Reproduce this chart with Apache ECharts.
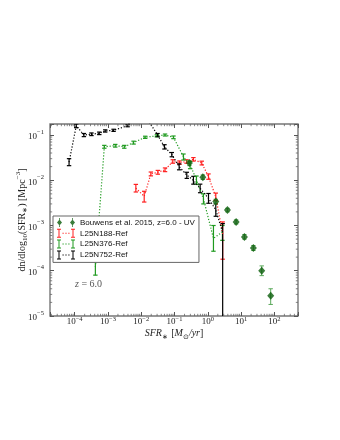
<!DOCTYPE html>
<html>
<head>
<meta charset="utf-8">
<style>
  html, body { margin: 0; padding: 0; background: #fff; }
  #chart { width: 340px; height: 440px; }
</style>
</head>
<body>
<div id="chart"></div>
<script src="https://cdn.jsdelivr.net/npm/echarts@6/dist/echarts.min.js"></script>
<script>
// Bouwens et al. 2015, z=6 (UV derived)
var sfrBouwens = [0.28, 0.71, 1.74, 3.9, 7.1, 12.6, 23.4, 41.7, 77.6];
var phiBouwens = [0.024, 0.0117, 0.0034, 0.0022, 0.0012, 5.6e-4, 3.2e-4, 1.0e-4, 2.8e-5];
var loBouwens  = [0.021, 0.0104, 0.0030, 0.0020, 0.00108, 5.0e-4, 2.8e-4, 0.78e-4, 1.8e-5];
var hiBouwens  = [0.027, 0.0131, 0.0038, 0.0024, 0.00133, 6.3e-4, 3.6e-4, 1.28e-4, 4.0e-5];

// L25N188-Ref
var sfr188 = [6.9e-3, 0.0123, 0.0195, 0.0316, 0.052, 0.089, 0.141, 0.23, 0.37, 0.66, 1.05, 1.74, 2.8];
var phi188 = [0.0067, 0.0044, 0.0138, 0.015, 0.017, 0.026, 0.0245, 0.026, 0.029, 0.024, 0.012, 0.0043, 6.5e-4];
var lo188  = [0.0055, 0.0033, 0.0125, 0.0136, 0.0155, 0.0238, 0.0225, 0.0238, 0.0265, 0.0218, 0.0105, 0.0036, 1.8e-4];
var hi188  = [0.0081, 0.0057, 0.0152, 0.0165, 0.0187, 0.0284, 0.0267, 0.0284, 0.0317, 0.0264, 0.0138, 0.0052, 1.2e-3];

// L25N376-Ref
var sfr376 = [4.2e-4, 7.8e-4, 1.66e-3, 3.1e-3, 5.9e-3, 0.0132, 0.0295, 0.052, 0.093, 0.186, 0.295, 0.457, 0.74, 1.48, 2.75];
var phi376 = [1.2e-4, 0.055, 0.058, 0.055, 0.068, 0.089, 0.096, 0.10, 0.089, 0.033, 0.022, 0.0102, 0.0039, 5.2e-4, 7.2e-4];
var lo376  = [0.8e-4, 0.051, 0.054, 0.051, 0.063, 0.084, 0.091, 0.095, 0.083, 0.028, 0.018, 0.0082, 0.0030, 2.7e-4, 4.7e-4];
var hi376  = [1.6e-4, 0.059, 0.062, 0.059, 0.073, 0.094, 0.101, 0.105, 0.095, 0.038, 0.026, 0.0124, 0.0050, 1.0e-3, 1.0e-3];

// L25N752-Ref
var sfr752 = [6.8e-5, 1.12e-4, 1.9e-4, 3.2e-4, 5.5e-4, 8.3e-4, 1.48e-3, 3.9e-3, 7.1e-3, 0.014, 0.031, 0.050, 0.083, 0.138, 0.234, 0.37, 0.59, 1.05, 1.74, 2.8];
var phi752 = [0.025, 0.16, 0.10, 0.104, 0.109, 0.123, 0.127, 0.16, 0.30, 0.25, 0.10, 0.055, 0.037, 0.020, 0.013, 0.010, 0.0066, 0.0040, 0.0022, 7.0e-4];
var lo752  = [0.021, 0.145, 0.092, 0.097, 0.102, 0.116, 0.120, 0.152, 0.29, 0.24, 0.092, 0.049, 0.033, 0.017, 0.011, 0.0082, 0.0053, 0.0031, 0.0016, 1e-9];
var hi752  = [0.030, 0.175, 0.108, 0.111, 0.116, 0.130, 0.134, 0.168, 0.31, 0.26, 0.108, 0.061, 0.041, 0.023, 0.015, 0.0122, 0.0082, 0.0051, 0.0030, 0.0011];

var xMin = 1.82e-5, xMax = 513;
var yMin = 1e-5, yMax = 0.175;

function rows(x, y, lo, hi) {
  var out = [];
  for (var i = 0; i < x.length; i++) out.push([x[i], y[i], lo[i], hi[i]]);
  return out;
}

function errorBars(color, width, cap) {
  return function (params, api) {
    var x = api.value(0);
    var top = api.coord([x, api.value(3)]);
    var bot = api.coord([x, api.value(2)]);
    var st = { stroke: color, lineWidth: width };
    return {
      type: 'group',
      children: [
        { type: 'line', shape: { x1: top[0], y1: top[1], x2: bot[0], y2: bot[1] }, style: st },
        { type: 'line', shape: { x1: top[0] - cap, y1: top[1], x2: top[0] + cap, y2: top[1] }, style: st },
        { type: 'line', shape: { x1: bot[0] - cap, y1: bot[1], x2: bot[0] + cap, y2: bot[1] }, style: st }
      ]
    };
  };
}

// minor ticks for the log axes (2..9 x 10^n)
var xMinor = [], yMinor = [];
for (var n = -5; n <= 2; n++) {
  for (var k = 2; k <= 9; k++) {
    var v = k * Math.pow(10, n);
    if (v > xMin && v < xMax) xMinor.push(v);
    if (v > yMin && v < yMax) yMinor.push(v);
  }
}

function minorTicks(params, api) {
  var r = params.coordSys;
  var kids = [];
  var st = { stroke: '#666', lineWidth: 0.8 };
  xMinor.forEach(function (v) {
    var px = api.coord([v, yMin])[0];
    kids.push({ type: 'line', shape: { x1: px, y1: r.y + r.height, x2: px, y2: r.y + r.height - 2.2 }, style: st });
    kids.push({ type: 'line', shape: { x1: px, y1: r.y, x2: px, y2: r.y + 2.2 }, style: st });
  });
  yMinor.forEach(function (v) {
    var py = api.coord([xMin, v])[1];
    kids.push({ type: 'line', shape: { x1: r.x, y1: py, x2: r.x + 2.2, y2: py }, style: st });
    kids.push({ type: 'line', shape: { x1: r.x + r.width, y1: py, x2: r.x + r.width - 2.2, y2: py }, style: st });
  });
  return { type: 'group', children: kids };
}

function powLabel(v) {
  var e = Math.round(Math.log(v) / Math.LN10);
  if (Math.abs(Math.log(v) / Math.LN10 - e) > 1e-6) return '';
  return '{b|10}{s|' + (e < 0 ? '\u2212' + (-e) : e) + '}';
}

var tickRichX = {
  b: { fontFamily: 'Liberation Serif', fontSize: 9, color: '#222', verticalAlign: 'bottom', lineHeight: 10 },
  s: { fontFamily: 'Liberation Serif', fontSize: 6.5, color: '#222', verticalAlign: 'top', lineHeight: 10 }
};
var tickRichY = {
  b: { fontFamily: 'Liberation Serif', fontSize: 9, color: '#222', verticalAlign: 'bottom', lineHeight: 13 },
  s: { fontFamily: 'Liberation Serif', fontSize: 6.5, color: '#222', verticalAlign: 'top', lineHeight: 13 }
};

var simIcon = 'path://M0,0H4V1H0ZM1.5,0H2.5V9H1.5ZM0,8H4V9H0ZM14,0H18V1H14ZM15.5,0H16.5V9H15.5ZM14,8H18V9H14ZM5.5,4H6.7V5H5.5ZM8.4,4H9.6V5H8.4ZM11.3,4H12.5V5H11.3Z';
var obsIcon = 'path://M2.5,1.5L5,4.5L2.5,7.5L0,4.5ZM2.1,0H2.9V9H2.1ZM15.5,1.5L18,4.5L15.5,7.5L13,4.5ZM15.1,0H15.9V9H15.1Z';

var red = '#ff2020', green = '#1f9a1f', black = '#000000';
var dotted = [1.2, 1.8];

function logAxis(pos, min, max, rich) {
  return {
    type: 'log', logBase: 10, position: pos, min: min, max: max,
    axisLine: { show: false },
    splitLine: { show: false },
    axisTick: { show: true, inside: true, length: 4, lineStyle: { color: '#555', width: 1 } },
    axisLabel: rich ? { show: true, formatter: powLabel, rich: rich } : { show: false }
  };
}

var xBottom = logAxis('bottom', xMin, xMax, tickRichX);
xBottom.axisLabel.margin = 0;
xBottom.name = '{i|SFR}{sub|\u2217} {r|[}{i|M}{sub|\u2299}{i|/yr}{r|]}';
xBottom.nameLocation = 'middle';
xBottom.nameGap = 12;
xBottom.nameMoveOverlap = false;
xBottom.nameTextStyle = {
  rich: {
    i: { fontFamily: 'Liberation Serif', fontStyle: 'italic', fontSize: 10, color: '#222', verticalAlign: 'top', lineHeight: 13 },
    r: { fontFamily: 'Liberation Serif', fontSize: 10, color: '#222', verticalAlign: 'top', lineHeight: 13 },
    sub: { fontFamily: 'Liberation Serif', fontSize: 7, color: '#222', verticalAlign: 'bottom', lineHeight: 13 }
  }
};
var xTop = logAxis('top', xMin, xMax, null);

var yLeft = logAxis('left', yMin, yMax, tickRichY);
yLeft.axisLabel.margin = 6;
yLeft.name = '{r|dn/dlog}{sub|10}{r|(SFR}{sub|\u2217}{r|) [Mpc}{sup|\u22123}{r|]}';
yLeft.nameLocation = 'middle';
yLeft.nameGap = 21;
yLeft.nameMoveOverlap = false;
yLeft.nameRotate = 90;
yLeft.nameTextStyle = {
  rich: {
    r: { fontFamily: 'Liberation Serif', fontSize: 10, color: '#222', verticalAlign: 'middle', lineHeight: 14 },
    sub: { fontFamily: 'Liberation Serif', fontSize: 7, color: '#222', verticalAlign: 'bottom', lineHeight: 14 },
    sup: { fontFamily: 'Liberation Serif', fontSize: 7, color: '#222', verticalAlign: 'top', lineHeight: 14 }
  }
};
var yRight = logAxis('right', yMin, yMax, null);

var chart = echarts.init(document.getElementById('chart'));
chart.setOption({
  animation: false,
  grid: { left: 50, top: 124, right: 42, bottom: 124, show: true, borderColor: '#777', borderWidth: 1.4, backgroundColor: 'transparent' },
  xAxis: [xBottom, xTop],
  yAxis: [yLeft, yRight],
  legend: {
    orient: 'vertical', left: 53, top: 216,
    padding: [2, 4, 3, 4], itemGap: 1.8, itemWidth: 18, itemHeight: 9,
    borderColor: '#666', borderWidth: 1, backgroundColor: '#fff',
    textStyle: { fontFamily: 'Liberation Sans', fontSize: 8, lineHeight: 9, color: '#111' },
    data: [
      { name: 'Bouwens et al. 2015, z=6.0 - UV', icon: obsIcon },
      { name: 'L25N188-Ref', icon: simIcon },
      { name: 'L25N376-Ref', icon: simIcon },
      { name: 'L25N752-Ref', icon: simIcon }
    ]
  },
  graphic: [{
    type: 'text', left: 75, top: 279,
    style: {
      text: '{i|z} = 6.0',
      fill: '#555',
      font: '10px "Liberation Serif"',
      rich: { i: { fontFamily: 'Liberation Serif', fontStyle: 'italic', fontSize: 10, fill: '#555' } }
    }
  }],
  series: [
    { type: 'custom', name: 'minor', renderItem: minorTicks, data: [[1, 1]], silent: true, clip: false, z: 5 },
    { type: 'line', name: '188 line', data: rows(sfr188, phi188, lo188, hi188), symbol: 'none',
      lineStyle: { color: red, width: 1.2, type: dotted }, clip: true },
    { type: 'custom', name: 'L25N188-Ref', data: rows(sfr188, phi188, lo188, hi188), itemStyle: { color: red },
      renderItem: errorBars(red, 1.2, 2.2), encode: { x: 0, y: 1 }, clip: true },
    { type: 'line', name: '376 line', data: rows(sfr376, phi376, lo376, hi376), symbol: 'none',
      lineStyle: { color: green, width: 1.2, type: dotted }, clip: true },
    { type: 'custom', name: 'L25N376-Ref', data: rows(sfr376, phi376, lo376, hi376), itemStyle: { color: green },
      renderItem: errorBars(green, 1.2, 2.2), encode: { x: 0, y: 1 }, clip: true },
    { type: 'line', name: '752 line', data: rows(sfr752, phi752, lo752, hi752), symbol: 'none',
      lineStyle: { color: black, width: 1.2, type: dotted }, clip: true },
    { type: 'custom', name: 'L25N752-Ref', data: rows(sfr752, phi752, lo752, hi752), itemStyle: { color: black },
      renderItem: errorBars(black, 1.2, 2.2), encode: { x: 0, y: 1 }, clip: true },
    { type: 'custom', name: 'Bouwens errors', data: rows(sfrBouwens, phiBouwens, loBouwens, hiBouwens),
      renderItem: errorBars('#5aa85a', 1, 2.2), encode: { x: 0, y: 1 }, clip: true },
    { type: 'scatter', name: 'Bouwens et al. 2015, z=6.0 - UV', data: rows(sfrBouwens, phiBouwens, loBouwens, hiBouwens),
      symbol: 'diamond', symbolSize: [7, 8], itemStyle: { color: '#0a5c0a' }, z: 4 }
  ]
});
</script>
</body>
</html>
